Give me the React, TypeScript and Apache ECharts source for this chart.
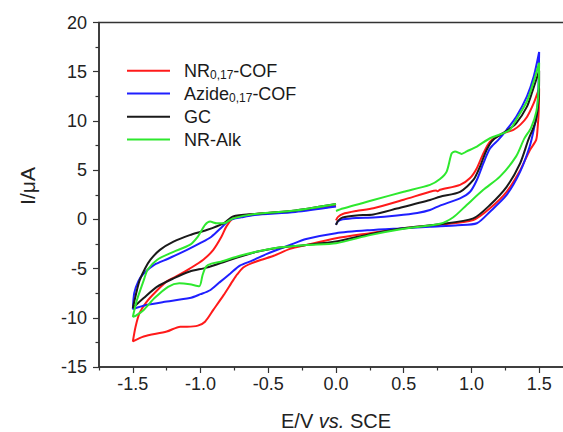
import React, { useEffect, useRef } from "react";
import * as echarts from "echarts";

// Potential E (V vs SCE), current I (µA) pairs, in scan order
const nrCof: [number, number][] = [
  [0, -0.1], [0.015, 0.25], [0.05, 0.55], [0.15, 0.85], [0.276, 1.13], [0.5, 2.0], [0.694, 2.8], [0.74, 2.92], [0.75, 2.85], [0.768, 3.0], [0.916, 3.5], [0.99, 4.2], [1.04, 5.2], [1.088, 6.7], [1.137, 7.9], [1.235, 8.75], [1.31, 9.1], [1.36, 9.6], [1.41, 10.4], [1.46, 11.8], [1.5, 13.3],
  [1.497, 11.0], [1.49, 9.5], [1.478, 8.07], [1.43, 7.0], [1.36, 5.0], [1.26, 2.8], [1.137, 1.13], [1.014, -0.06], [0.768, -0.55], [0.5, -0.9], [0.25, -1.4], [0, -1.92], [-0.22, -2.6], [-0.34, -3.0], [-0.46, -3.7], [-0.55, -4.1], [-0.63, -4.5], [-0.685, -4.9], [-0.73, -5.6], [-0.76, -6.2], [-0.83, -7.7], [-0.906, -9.2], [-0.967, -10.4], [-1.02, -10.8], [-1.1, -10.9], [-1.15, -10.9], [-1.25, -11.4], [-1.42, -11.9], [-1.5, -12.4],
  [-1.48, -10.9], [-1.45, -9.5], [-1.4, -8.4], [-1.32, -7.2], [-1.25, -6.3], [-1.18, -5.8], [-1.08, -5.0], [-0.98, -4.1], [-0.906, -3.1], [-0.845, -1.75], [-0.81, -0.74], [-0.76, 0.1], [-0.66, 0.45], [-0.3, 0.85], [0, 1.35],
];

const azideCof: [number, number][] = [
  [0, -0.55], [0.015, -0.2], [0.05, 0.0], [0.15, 0.15], [0.276, 0.2], [0.45, 0.4], [0.6, 0.65], [0.694, 0.95], [0.768, 1.4], [0.916, 2.14], [0.99, 2.8], [1.04, 4.0], [1.088, 5.7], [1.137, 7.2], [1.2, 8.1], [1.26, 9.1], [1.33, 10.4], [1.41, 12.5], [1.46, 14.5], [1.5, 17.0],
  [1.495, 13.5], [1.485, 11.0], [1.46, 9.1], [1.43, 7.4], [1.36, 4.85], [1.26, 2.48], [1.137, 0.78], [1.04, -0.4], [0.9, -0.6], [0.694, -0.74], [0.5, -0.9], [0.25, -1.1], [0, -1.4], [-0.22, -2.0], [-0.34, -2.6], [-0.51, -3.5], [-0.62, -4.2], [-0.71, -4.7], [-0.78, -5.5], [-0.86, -6.4], [-0.93, -7.2], [-1.0, -7.6], [-1.08, -8.0], [-1.275, -8.4], [-1.4, -8.7], [-1.5, -9.1],
  [-1.49, -7.5], [-1.46, -6.3], [-1.42, -5.5], [-1.34, -4.6], [-1.24, -4.0], [-1.1, -3.1], [-1.0, -2.4], [-0.92, -1.76], [-0.84, -0.75], [-0.785, -0.07], [-0.7, 0.2], [-0.6, 0.45], [-0.3, 0.75], [0, 1.3],
];

const gc: [number, number][] = [
  [0, -0.55], [0.015, -0.15], [0.05, 0.2], [0.15, 0.4], [0.276, 0.5], [0.45, 1.1], [0.694, 1.97], [0.768, 2.3], [0.916, 2.8], [1.014, 4.0], [1.063, 5.36], [1.112, 7.05], [1.16, 8.07], [1.26, 9.0], [1.33, 9.76], [1.41, 11.45], [1.45, 13.0], [1.5, 15.1],
  [1.497, 12.5], [1.475, 10.0], [1.42, 8.07], [1.36, 5.7], [1.26, 3.3], [1.137, 1.46], [1.014, 0.1], [0.768, -0.5], [0.5, -0.9], [0.25, -1.5], [0, -2.26], [-0.22, -2.6], [-0.44, -2.9], [-0.586, -3.3], [-0.78, -4.1], [-0.955, -4.9], [-1.08, -5.3], [-1.2, -6.0], [-1.32, -6.84], [-1.42, -8.0], [-1.5, -9.0],
  [-1.47, -7.2], [-1.45, -6.2], [-1.41, -5.0], [-1.37, -4.1], [-1.3, -3.1], [-1.2, -2.27], [-1.08, -1.6], [-0.955, -1.08], [-0.83, -0.4], [-0.76, 0.3], [-0.6, 0.55], [-0.3, 0.9], [0, 1.55],
];

const nrAlk: [number, number][] = [
  [0, 0.85], [0.05, 1.1], [0.276, 1.97], [0.5, 2.8], [0.694, 3.5], [0.768, 4.1], [0.817, 4.85], [0.854, 6.7], [0.879, 6.9], [0.928, 6.65], [0.965, 6.9], [1.04, 7.4], [1.137, 8.24], [1.235, 8.75], [1.285, 9.1], [1.33, 10.1], [1.41, 12.0], [1.46, 14.0], [1.5, 15.9],
  [1.495, 13.0], [1.48, 11.0], [1.44, 9.3], [1.39, 8.2], [1.33, 6.4], [1.21, 4.34], [1.088, 3.0], [0.965, 1.46], [0.866, 0.21], [0.768, -0.45], [0.5, -0.95], [0.25, -1.6], [0, -2.43], [-0.22, -2.6], [-0.46, -2.94], [-0.71, -3.7], [-0.85, -4.3], [-0.92, -4.5], [-0.96, -4.8], [-0.985, -5.65], [-1.01, -6.8], [-1.08, -6.6], [-1.157, -6.5], [-1.24, -6.85], [-1.34, -8.0], [-1.42, -9.2], [-1.48, -9.8], [-1.5, -9.9],
  [-1.47, -8.2], [-1.42, -6.2], [-1.39, -5.1], [-1.32, -4.1], [-1.2, -3.3], [-1.08, -2.6], [-1.02, -1.75], [-0.967, -0.57], [-0.93, -0.23], [-0.88, -0.4], [-0.83, -0.4], [-0.76, 0.1], [-0.6, 0.55], [-0.3, 0.9], [0, 1.56],
];

const xMajorTicks = [-1.5, -1.0, -0.5, 0.0, 0.5, 1.0, 1.5];
const xMinorTicks = [-1.75, -1.25, -0.75, -0.25, 0.25, 0.75, 1.25];

const seriesNames = ["NR{s|0,17}-COF", "Azide{s|0,17}-COF", "GC", "NR-Alk"];
const seriesColors = ["#ff1a1a", "#1f1fff", "#1a1a1a", "#2ee82e"];

const FONT = "Liberation Sans, Arial, Helvetica, sans-serif";

export default function App() {
  const ref = useRef<HTMLDivElement>(null);
  useEffect(() => {
    if (!ref.current) return;
    const chart = echarts.init(ref.current, undefined, { renderer: "svg" });
    const datasets = [nrCof, azideCof, gc, nrAlk];
    const legendY = [70.7, 93.5, 116.7, 139.5];
    const legendGraphics: any[] = [];
    seriesNames.forEach((n, i) => {
      legendGraphics.push({
        type: "line",
        shape: { x1: 127, y1: legendY[i], x2: 170, y2: legendY[i] },
        style: { stroke: seriesColors[i], lineWidth: 2 },
      });
      legendGraphics.push({
        type: "text",
        x: 184,
        y: legendY[i],
        style: {
          text: n,
          fontFamily: FONT,
          fontSize: 18,
          fill: "#1a1a1a",
          verticalAlign: "middle",
          rich: {
            s: { fontSize: 12, fontFamily: FONT, fill: "#1a1a1a", padding: [9, 0, 0, 0] },
          },
        },
      });
    });
    const axisColor = "#333";
    chart.setOption({
      animation: false,
      backgroundColor: "#fff",
      grid: {
        left: 99,
        top: 22.5,
        width: 474,
        height: 344.5,
        show: true,
        borderColor: axisColor,
        borderWidth: 1.5,
        backgroundColor: "transparent",
      },
      xAxis: [
        {
          type: "value",
          min: -1.75,
          max: 1.75,
          axisLine: { show: true, onZero: false, lineStyle: { color: axisColor, width: 1.5 } },
          axisTick: { show: true, inside: false, length: 6, customValues: xMajorTicks, lineStyle: { color: axisColor, width: 1.2 } },
          axisLabel: {
            customValues: xMajorTicks,
            formatter: (v: number) => v.toFixed(1),
            fontSize: 18,
            fontFamily: FONT,
            color: "#222",
            margin: 8,
          },
          splitLine: { show: false },
        },
        {
          type: "value",
          min: -1.75,
          max: 1.75,
          position: "bottom",
          axisLine: { show: false, onZero: false },
          axisTick: { show: true, inside: false, length: 3.5, customValues: xMinorTicks, lineStyle: { color: axisColor, width: 1.2 } },
          axisLabel: { show: false },
          splitLine: { show: false },
        },
      ],
      yAxis: {
        type: "value",
        min: -15,
        max: 20,
        interval: 5,
        axisLine: { show: true, onZero: false, lineStyle: { color: axisColor, width: 1.5 } },
        axisTick: { show: true, inside: false, length: 6, lineStyle: { color: axisColor, width: 1.2 } },
        minorTick: { show: true, splitNumber: 2, length: 3.5, lineStyle: { color: axisColor, width: 1.2 } },
        axisLabel: { fontSize: 18, fontFamily: FONT, color: "#222", margin: 12 },
        splitLine: { show: false },
      },
      series: datasets.map((d, i) => ({
        type: "line",
        name: seriesNames[i],
        data: d,
        xAxisIndex: 0,
        showSymbol: false,
        symbol: "none",
        smooth: 0.25,
        lineStyle: { color: seriesColors[i], width: 2 },
        z: 2 + i,
      })),
      graphic: [
        ...legendGraphics,
        {
          type: "text",
          x: 336,
          y: 421,
          style: {
            text: "E/V {i|vs.} SCE",
            fontFamily: FONT,
            fontSize: 20,
            fill: "#222",
            align: "center",
            verticalAlign: "middle",
            rich: { i: { fontStyle: "italic", fontSize: 20, fontFamily: FONT, fill: "#222" } },
          },
        },
        {
          type: "text",
          x: 27,
          y: 186,
          rotation: Math.PI / 2,
          style: {
            text: "I/\u03bcA",
            fontFamily: FONT,
            fontSize: 21,
            fill: "#222",
            align: "center",
            verticalAlign: "middle",
          },
        },
      ],
    });
    return () => chart.dispose();
  }, []);
  return (
    <div
      style={{ position: "absolute", left: 0, top: 0, width: 563, height: 432, overflow: "hidden" }}
    >
      <div ref={ref} style={{ width: 590, height: 432 }} />
    </div>
  );
}
